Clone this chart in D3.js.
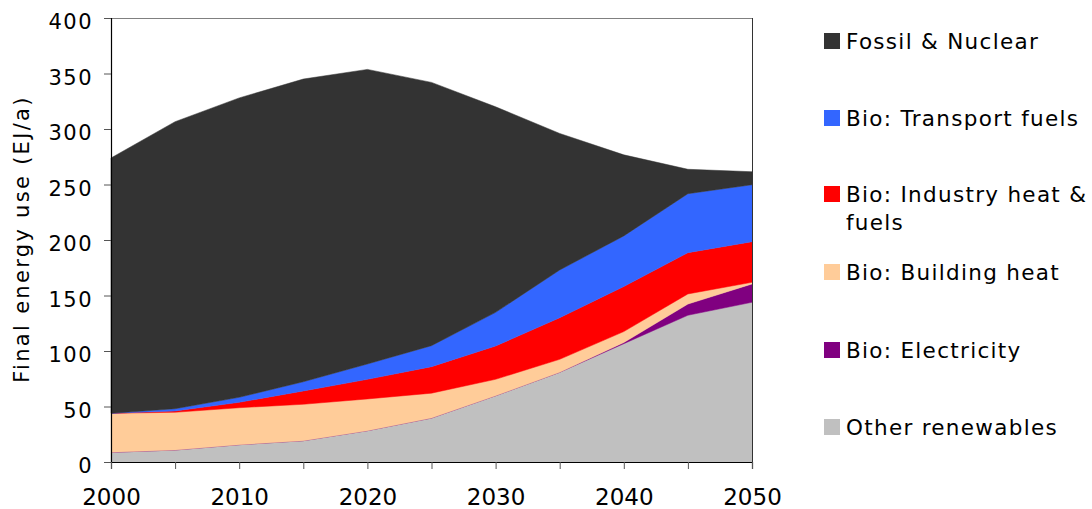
<!DOCTYPE html>
<html><head><meta charset="utf-8">
<script src="https://cdn.jsdelivr.net/npm/d3@7"></script>
<style>body{margin:0;background:#fff;}svg{display:block;font-family:"DejaVu Sans",Verdana,sans-serif;}</style>
</head><body>
<svg id="c" width="1092" height="509"></svg>
<script>
const years = [2000,2005,2010,2015,2020,2025,2030,2035,2040,2045,2050];
const otherRenewables = [8.7,10.8,15.6,19.2,28.2,39.6,59.7,80.8,106.6,132.2,143.9];
const bioElectricity = [0,0,0,0,0,0,0,0,1,10.1,16.5];
const bioBuilding = [35.2,34.0,33.3,32.8,28.6,22.4,14.8,11.7,9.9,9.1,1.5];
const bioIndustry = [0,1.2,4.9,12.0,17.7,23.9,30.0,37.5,40.6,37.2,36.6];
const bioTransport = [0,2.0,4.5,8.3,13.8,18.9,30.3,43.0,45.6,53.1,51.3];
const fossilNuclear = [230,258.6,269.7,272.7,265.4,237.2,185.2,123.0,73.0,22.0,11.7];
const seriesNames = ["Other renewables","Bio: Electricity","Bio: Building heat","Bio: Industry heat & fuels","Bio: Transport fuels","Fossil & Nuclear"];
const seriesColors = ["#C0C0C0","#800080","#FFCC99","#FF0000","#3366FF","#333333"];
const yTicks = [0,50,100,150,200,250,300,350,400];
const xTickLabels = [2000,2010,2020,2030,2040,2050];

const seriesArrays = [otherRenewables,bioElectricity,bioBuilding,bioIndustry,bioTransport,fossilNuclear];
const keys = seriesNames;
const rows = years.map((y,i)=>{const r={year:y};keys.forEach((k,j)=>r[k]=seriesArrays[j][i]);return r;});

const svg = d3.select("#c");
const L=111, R=752, T=18, B=462;
const x = d3.scaleLinear().domain([2000,2050]).range([L,R]);
const y = d3.scaleLinear().domain([0,400]).range([B,T]);

const stack = d3.stack().keys(keys)(rows);
const area = d3.area().x(d=>x(d.data.year)).y0(d=>y(d[0])).y1(d=>y(d[1]));
svg.append("g").selectAll("path").data(stack).join("path")
  .attr("d",area).attr("fill",(d,i)=>seriesColors[i]).attr("stroke",(d,i)=>seriesColors[i]).attr("stroke-width",0.5);

// plot border
svg.append("line").attr("x1",L).attr("x2",R).attr("y1",T+0.5).attr("y2",T+0.5).attr("stroke","#808080").attr("stroke-width",1);
svg.append("line").attr("x1",R+0.5).attr("x2",R+0.5).attr("y1",T).attr("y2",B).attr("stroke","#333").attr("stroke-width",1);

// axes
const yAxis = svg.append("g").attr("transform",`translate(${L},0)`)
  .call(d3.axisLeft(y).tickValues(yTicks).tickSize(7).tickPadding(11));
const xAxis = svg.append("g").attr("transform",`translate(0,${B})`)
  .call(d3.axisBottom(x).tickValues(d3.range(2000,2051,5)).tickSize(7)
    .tickFormat(d=>xTickLabels.includes(d)?d:""));
[yAxis,xAxis].forEach(g=>{
  g.select(".domain").attr("stroke","#000").attr("stroke-width",1.2);
  g.selectAll(".tick line").attr("stroke","#555");
  g.selectAll("text").attr("fill","#000").attr("font-family","DejaVu Sans, Verdana, sans-serif");
});
yAxis.selectAll("text").attr("font-size",21).attr("letter-spacing",1.5).attr("y",4);
xAxis.selectAll("text").attr("font-size",23).attr("y",43).attr("dy",0);

svg.append("text").attr("transform","translate(29,239) rotate(-90)").attr("text-anchor","middle")
  .attr("font-size",21).attr("letter-spacing",2.3).text("Final energy use (EJ/a)");

// legend (top to bottom reverse order)
const legendOrder = [5,4,3,2,1,0];
const legendY = [41,118,194,272,350,427];
const lg = svg.append("g");
legendOrder.forEach((si,k)=>{
  const g = lg.append("g").attr("transform",`translate(824,${legendY[k]})`);
  g.append("rect").attr("x",0).attr("y",-8).attr("width",16).attr("height",16).attr("fill",seriesColors[si]);
  const name = seriesNames[si];
  const t=g.append("text").attr("x",22).attr("y",8).attr("font-size",21.5).attr("letter-spacing",1.3);
  if(name==="Bio: Industry heat & fuels"){
    t.append("tspan").attr("x",22).text("Bio: Industry heat &");
    t.append("tspan").attr("x",22).attr("dy",28).text("fuels");
  } else {
    t.text(name);
  }
});
</script>
</body></html>
